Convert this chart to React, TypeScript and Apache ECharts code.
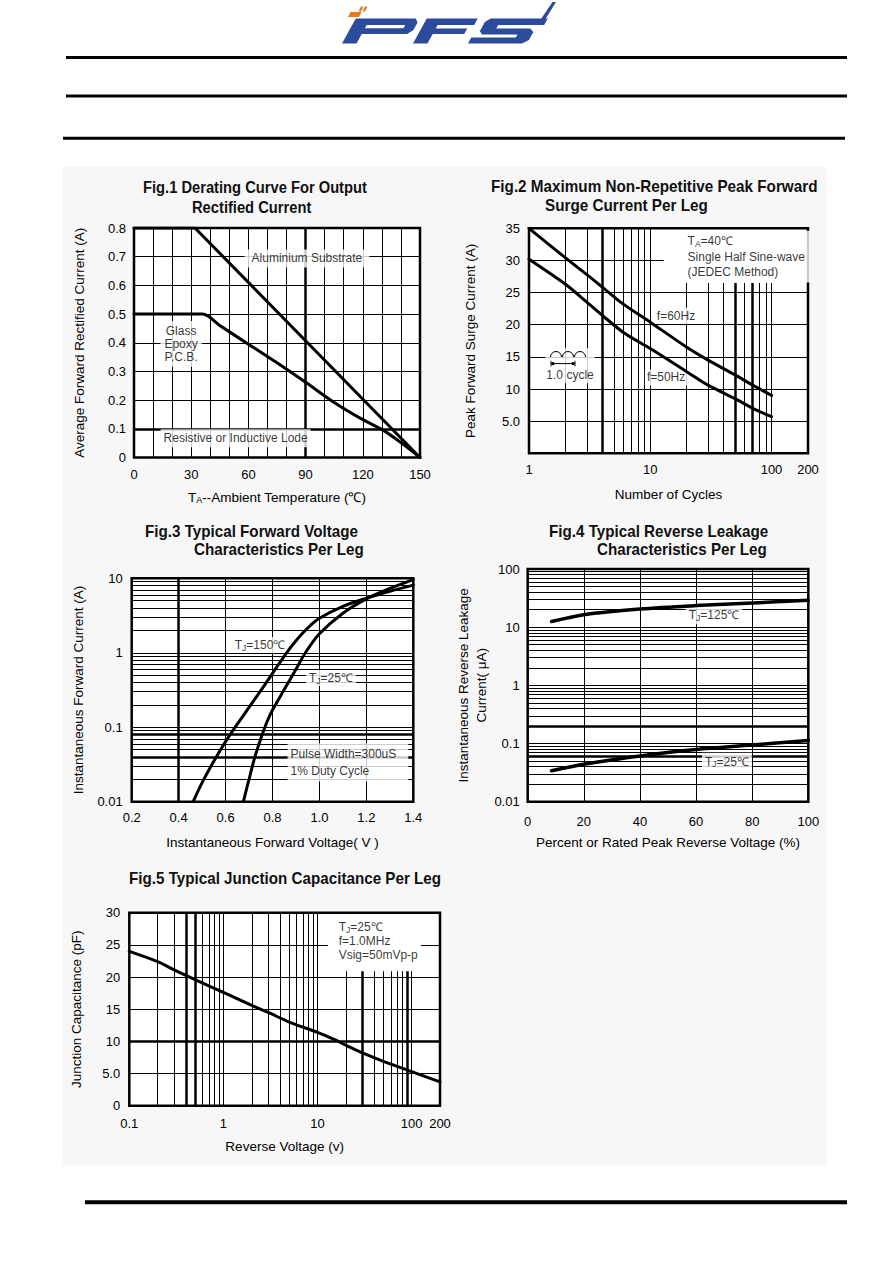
import React, { useEffect, useRef } from 'react';
import * as echarts from 'echarts';

const FONT = '"Liberation Sans", Arial, sans-serif';

// ---------- Fig.1 Derating curve ----------
const fig1Aluminium: [number, number][] = [[0, 0.8], [32, 0.8], [150, 0]];
const fig1Glass: [number, number][] = [[0, 0.5], [36, 0.5], [45, 0.46], [60, 0.395], [75, 0.33], [90, 0.262], [105, 0.192], [120, 0.132], [130, 0.098], [140, 0.052], [150, 0]];
const fig1VGrid = [10, 20, 30, 40, 50, 60, 70, 80, 90, 100, 110, 120, 130, 140];
const fig1VThick = [90];
const fig1HGrid = [0.1, 0.2, 0.3, 0.4, 0.5, 0.6, 0.7];
const fig1HThick = [0.1];

// ---------- Fig.2 Surge current ----------
const fig2F60: [number, number][] = [[1, 35], [2, 30.4], [3, 27.8], [4, 25.9], [6, 23.2], [10, 20.4], [20, 16.5], [30, 14.5], [50, 12.2], [70, 10.6], [100, 9.0]];
const fig2F50: [number, number][] = [[1, 30.2], [2, 26.3], [3, 23.5], [4, 21.5], [6, 18.8], [10, 16.3], [20, 12.7], [30, 10.6], [50, 8.5], [70, 7.0], [100, 5.7]];
const fig2XLabels = [1, 10, 100, 200];
const fig2VFull = [2, 3, 4, 5, 6, 7, 8, 9, 10];
const fig2VPartial = [20, 30, 40, 50, 60, 70, 80, 90, 100];
const fig2VThick = [4, 50, 70];
const fig2HFull = [5, 10, 15, 20, 25];
const fig2HPartial = [30];

// ---------- Fig.3 Forward voltage ----------
const fig3Tj150: [number, number][] = [[0.462, 0.01], [0.5, 0.018], [0.55, 0.035], [0.6, 0.064], [0.65, 0.11], [0.7, 0.185], [0.75, 0.31], [0.8, 0.53], [0.86, 1.0], [0.9, 1.45], [0.95, 2.15], [1.0, 2.9], [1.1, 4.2], [1.2, 5.4], [1.3, 6.7], [1.4, 8.1]];
const fig3Tj25: [number, number][] = [[0.676, 0.01], [0.7, 0.02], [0.725, 0.04], [0.75, 0.07], [0.775, 0.115], [0.8, 0.17], [0.85, 0.32], [0.9, 0.6], [0.94, 1.0], [1.0, 1.8], [1.1, 3.4], [1.2, 5.3], [1.3, 7.3], [1.4, 9.6]];
const fig3VGrid = [0.4, 0.6, 0.8, 1.0, 1.2];
const fig3VThick = [0.4];
const fig3HGrid = [0.02, 0.03, 0.04, 0.05, 0.06, 0.07, 0.08, 0.09, 0.1, 0.2, 0.3, 0.4, 0.5, 0.6, 0.7, 0.8, 0.9, 1, 2, 3, 4, 5, 6, 7, 8, 9];
const fig3HThick = [0.04, 0.08];

// ---------- Fig.4 Reverse leakage ----------
const fig4Tj125: [number, number][] = [[8.5, 12.5], [20, 16.4], [40, 20.5], [60, 23.5], [80, 26], [100, 29]];
const fig4Tj25: [number, number][] = [[8.5, 0.034], [20, 0.044], [40, 0.061], [60, 0.079], [80, 0.094], [100, 0.113]];
const fig4VGrid = [20, 40, 60, 80];
const fig4HGrid = [0.02, 0.03, 0.04, 0.05, 0.06, 0.07, 0.08, 0.09, 0.1, 0.2, 0.3, 0.4, 0.5, 0.6, 0.7, 0.8, 0.9, 1, 2, 3, 4, 5, 6, 7, 8, 9, 10, 20, 30, 40, 50, 60, 70, 80, 90];
const fig4HThick = [0.06, 0.2];

// ---------- Fig.5 Junction capacitance ----------
const fig5Cap: [number, number][] = [[0.1, 24], [0.2, 22.4], [0.3, 21.1], [0.5, 19.6], [1, 17.6], [2, 15.6], [3, 14.5], [5, 13.0], [10, 11.4], [15, 10.3], [20, 9.4], [30, 8.2], [50, 6.9], [100, 5.3], [200, 3.7]];
const fig5XLabels = [0.1, 1, 10, 100, 200];
const fig5VFull = [0.2, 0.3, 0.4, 0.5, 0.6, 0.7, 0.8, 0.9, 1, 2, 3, 4, 5, 6, 7, 8, 9, 10];
const fig5VPartial = [20, 30, 40, 50, 60, 70, 80, 90, 100];
const fig5VThick = [0.4, 0.5, 30, 90];
const fig5HFull = [5, 10, 15, 20];
const fig5HThick = [10];
const fig5HPartial = [25];

const RICH = {
  s: { fontSize: 8.5, fontFamily: FONT, color: '#000', verticalAlign: 'bottom' },
};

const fmtLog = (v: number) => (v >= 1 ? String(Math.round(v)) : String(parseFloat(v.toPrecision(2))));

function vl(v: number, thick: number[]) {
  return { xAxis: v, lineStyle: { width: thick.includes(v) ? 2.5 : 1 } };
}
function hl(v: number, thick: number[]) {
  return { yAxis: v, lineStyle: { width: thick.includes(v) ? 2.5 : 1 } };
}
function seg(x0: number, y0: number, x1: number, y1: number, w: number) {
  return [{ coord: [x0, y0], lineStyle: { width: w } }, { coord: [x1, y1], lineStyle: { width: w } }];
}

function gridSeries(idx: number, data: any[]) {
  return {
    type: 'line',
    xAxisIndex: idx,
    yAxisIndex: idx,
    data: [],
    z: 1,
    silent: true,
    markLine: {
      z: 1,
      silent: true,
      symbol: ['none', 'none'],
      label: { show: false },
      lineStyle: { color: '#000', width: 1, type: 'solid' },
      emphasis: { disabled: true },
      data,
    },
  };
}

function curve(idx: number, data: [number, number][], width = 3, smooth: number | boolean = 0.3) {
  return {
    type: 'line',
    xAxisIndex: idx,
    yAxisIndex: idx,
    data,
    z: 5,
    symbol: 'none',
    smooth,
    silent: true,
    lineStyle: { color: '#000', width, cap: 'round', join: 'round' },
  };
}

type Ann = { value: [number, number]; text: string; pad: number[]; pos?: string; lh?: number };
function labelSeries(idx: number, items: Ann[]) {
  return {
    type: 'scatter',
    xAxisIndex: idx,
    yAxisIndex: idx,
    z: 3,
    symbolSize: 1,
    silent: true,
    itemStyle: { color: 'rgba(0,0,0,0)' },
    data: items.map((it) => ({
      value: it.value,
      label: {
        show: true,
        formatter: it.text,
        position: it.pos || 'inside',
        distance: 0,
        color: '#000',
        fontFamily: FONT,
        fontSize: 12,
        lineHeight: it.lh || 14,
        backgroundColor: '#fff',
        padding: it.pad,
        rich: RICH,
      },
    })),
  };
}

const axisLabelBase = { color: '#000', fontFamily: FONT, fontSize: 13 };
const nameStyle = { color: '#000', fontFamily: FONT, fontSize: 13.5, rich: { s: { fontSize: 9, fontFamily: FONT, color: '#000', verticalAlign: 'bottom' } } };
const hidden = { axisLine: { show: false }, axisTick: { show: false }, splitLine: { show: false } };

function titleText(text: string, x: number, y: number, sx = 0.94) {
  return {
    type: 'text',
    x,
    y,
    scaleX: sx,
    z: 10,
    style: { text, fill: '#111', fontFamily: FONT, fontWeight: 'bold', fontSize: 16, align: 'left', verticalAlign: 'middle' },
  };
}

const K = 0.55;
const sh = (pts: number[][]) => pts.map(([x, y]) => [x + (43.5 - y) * K, y]);

function buildOption(): any {
  const grids = [
    { left: 134, top: 228, width: 286, height: 229.5 },
    { left: 529, top: 228.3, width: 279, height: 225 },
    { left: 131.7, top: 578.3, width: 281.6, height: 223.4 },
    { left: 527.7, top: 569, width: 280.6, height: 232.7 },
    { left: 129.3, top: 912.7, width: 310.7, height: 193 },
  ].map((g) => ({ ...g, show: true, backgroundColor: '#fff', borderColor: '#000', borderWidth: 2.5, containLabel: false }));

  const xAxis = [
    {
      gridIndex: 0, type: 'value', min: 0, max: 150, interval: 30, ...hidden,
      axisLabel: { ...axisLabelBase, margin: 10 },
      name: 'T{s|A}--Ambient Temperature (℃)', nameLocation: 'middle', nameGap: 33, nameTextStyle: nameStyle,
    },
    {
      gridIndex: 1, type: 'log', logBase: 10, min: 1, max: 200, ...hidden,
      axisLabel: { ...axisLabelBase, margin: 10, customValues: fig2XLabels, formatter: fmtLog, showMaxLabel: true, showMinLabel: true },
      name: 'Number of Cycles', nameLocation: 'middle', nameGap: 34, nameTextStyle: nameStyle,
    },
    {
      gridIndex: 2, type: 'value', min: 0.2, max: 1.4, interval: 0.2, ...hidden,
      axisLabel: { ...axisLabelBase, margin: 9, formatter: (v: number) => v.toFixed(1) },
      name: 'Instantaneous Forward Voltage( V )', nameLocation: 'middle', nameGap: 34, nameTextStyle: nameStyle,
    },
    {
      gridIndex: 3, type: 'value', min: 0, max: 100, interval: 20, ...hidden,
      axisLabel: { ...axisLabelBase, margin: 13 },
      name: 'Percent or Rated Peak Reverse Voltage (%)', nameLocation: 'middle', nameGap: 34, nameTextStyle: nameStyle,
    },
    {
      gridIndex: 4, type: 'log', logBase: 10, min: 0.1, max: 200, ...hidden,
      axisLabel: { ...axisLabelBase, margin: 11, customValues: fig5XLabels, formatter: fmtLog, showMaxLabel: true, showMinLabel: true },
      name: 'Reverse Voltage (v)', nameLocation: 'middle', nameGap: 34, nameTextStyle: nameStyle,
    },
  ];

  const yAxis = [
    {
      gridIndex: 0, type: 'value', min: 0, max: 0.8, interval: 0.1, ...hidden,
      axisLabel: { ...axisLabelBase, margin: 8, formatter: (v: number) => (v === 0 ? '0' : v.toFixed(1)) },
      name: 'Average Forward Rectified Current (A)', nameLocation: 'middle', nameGap: 48, nameTextStyle: nameStyle,
    },
    {
      gridIndex: 1, type: 'value', min: 0, max: 35, interval: 5, ...hidden,
      axisLabel: { ...axisLabelBase, margin: 9, formatter: (v: number) => (v === 0 ? '' : v === 5 ? '5.0' : String(v)) },
      name: 'Peak Forward Surge Current (A)', nameLocation: 'middle', nameGap: 52, nameTextStyle: nameStyle,
    },
    {
      gridIndex: 2, type: 'log', logBase: 10, min: 0.01, max: 10, ...hidden,
      axisLabel: { ...axisLabelBase, margin: 9, formatter: fmtLog },
      name: 'Instantaneous Forward Current (A)', nameLocation: 'middle', nameGap: 46, nameTextStyle: nameStyle,
    },
    {
      gridIndex: 3, type: 'log', logBase: 10, min: 0.01, max: 100, ...hidden,
      axisLabel: { ...axisLabelBase, margin: 8, formatter: fmtLog },
      name: 'Instantaneous Reverse Leakage\nCurrent( μA)', nameLocation: 'middle', nameGap: 35,
      nameTextStyle: { ...nameStyle, lineHeight: 18 },
    },
    {
      gridIndex: 4, type: 'value', min: 0, max: 30, interval: 5, ...hidden,
      axisLabel: { ...axisLabelBase, margin: 9, formatter: (v: number) => (v === 5 ? '5.0' : String(v)) },
      name: 'Junction Capacitance (pF)', nameLocation: 'middle', nameGap: 46, nameTextStyle: nameStyle,
    },
  ];

  const series: any[] = [
    // Fig1
    gridSeries(0, [...fig1VGrid.map((v) => vl(v, fig1VThick)), ...fig1HGrid.map((v) => hl(v, fig1HThick))]),
    labelSeries(0, [
      { value: [90.7, 0.694], text: 'Aluminium Substrate', pad: [2, 7, 2, 7] },
      { value: [24.7, 0.396], text: 'Glass\nEpoxy\nP.C.B.', pad: [3, 4, 3, 4], lh: 13.3 },
      { value: [53.3, 0.067], text: 'Resistive or Inductive Lode', pad: [2, 3, 2, 3] },
    ]),
    curve(0, fig1Aluminium, 3, false),
    curve(0, fig1Glass),
    // Fig2
    gridSeries(1, [
      ...fig2VFull.map((v) => vl(v, fig2VThick)),
      ...fig2VPartial.map((v) => seg(v, 0, v, 26.5, fig2VThick.includes(v) ? 2.5 : 1)),
      ...fig2HFull.map((v) => hl(v, [])),
      ...fig2HPartial.map((v) => seg(1, v, 12.9, v, 1)),
    ]),
    labelSeries(1, [
      { value: [19, 30.6], text: 'T{s|A}=40℃\nSingle Half Sine-wave\n(JEDEC Method)', pad: [3, 6, 3, 3], pos: 'right', lh: 15.3 },
      { value: [16.3, 21.4], text: 'f=60Hz', pad: [1, 2, 1, 2] },
      { value: [13.5, 11.8], text: 'f=50Hz', pad: [1, 2, 1, 2] },
      { value: [2.18, 13.6], text: '1.0 cycle', pad: [20, 1, 1, 1] },
    ]),
    curve(1, fig2F60),
    curve(1, fig2F50),
    // Fig3
    gridSeries(2, [...fig3VGrid.map((v) => vl(v, fig3VThick)), ...fig3HGrid.map((v) => hl(v, fig3HThick))]),
    labelSeries(2, [
      { value: [0.747, 1.27], text: 'T{s|J}=150℃', pad: [1, 3, 1, 3] },
      { value: [1.049, 0.458], text: 'T{s|J}=25℃', pad: [1, 3, 1, 3] },
      { value: [0.862, 0.0336], text: 'Pulse Width=300uS\n1% Duty Cycle', pad: [2, 12, 2, 3], pos: 'right', lh: 17 },
    ]),
    curve(2, fig3Tj150),
    curve(2, fig3Tj25),
    // Fig4
    gridSeries(3, [...fig4VGrid.map((v) => vl(v, [])), ...fig4HGrid.map((v) => hl(v, fig4HThick))]),
    labelSeries(3, [
      { value: [66.4, 16.1], text: 'T{s|J}=125℃', pad: [2, 3, 2, 3] },
      { value: [71, 0.0487], text: 'T{s|J}=25℃', pad: [2, 3, 2, 3] },
    ]),
    curve(3, fig4Tj125, 3.5),
    curve(3, fig4Tj25, 3.5),
    // Fig5
    gridSeries(4, [
      ...fig5VFull.map((v) => vl(v, fig5VThick)),
      ...fig5VPartial.map((v) => seg(v, 0, v, 20.9, fig5VThick.includes(v) ? 2.5 : 1)),
      ...fig5HFull.map((v) => hl(v, fig5HThick)),
      ...fig5HPartial.map((v) => seg(0.1, v, 12.9, v, 1)),
      ...fig5HPartial.map((v) => seg(125, v, 200, v, 1)),
    ]),
    labelSeries(4, [
      { value: [15.4, 25.6], text: 'T{s|J}=25℃\nf=1.0MHz\nVsig=50mVp-p', pad: [2, 3, 2, 3], pos: 'right', lh: 14 },
    ]),
    curve(4, fig5Cap),
  ];

  const blue = '#2c4b9b';
  const orange = '#e8781e';
  const graphic: any[] = [
    { type: 'rect', z: -100, shape: { x: 63, y: 167, width: 764, height: 999 }, style: { fill: '#f7f7f7' } },
    { type: 'line', shape: { x1: 66, y1: 57.5, x2: 847, y2: 57.5 }, style: { stroke: '#000', lineWidth: 3 } },
    { type: 'line', shape: { x1: 66, y1: 96, x2: 847, y2: 96 }, style: { stroke: '#000', lineWidth: 3 } },
    { type: 'line', shape: { x1: 63, y1: 138.3, x2: 845, y2: 138.3 }, style: { stroke: '#000', lineWidth: 3 } },
    { type: 'line', shape: { x1: 85, y1: 1202.3, x2: 847, y2: 1202.3 }, style: { stroke: '#000', lineWidth: 4 } },
    // logo: P
    { type: 'polygon', shape: { points: sh([[342, 43.5], [342, 18.5], [402, 18.5], [406, 22.5], [406, 30], [402, 34], [356.5, 34], [356.5, 43.5]]) }, style: { fill: blue } },
    { type: 'polygon', shape: { points: sh([[356.5, 25], [395, 25], [395, 28.3], [356.5, 28.3]]) }, style: { fill: '#fff' } },
    // F
    { type: 'polygon', shape: { points: sh([[413, 43.5], [413, 18.5], [464, 18.5], [464, 25], [427.5, 25], [427.5, 28.5], [459, 28.5], [459, 34], [427.5, 34], [427.5, 43.5]]) }, style: { fill: blue } },
    // S
    { type: 'polygon', shape: { points: sh([[477, 18.5], [534, 18.5], [534, 25], [488, 25], [488, 28.5], [522, 28.5], [527, 32], [527, 40], [522, 43.5], [468, 43.5], [468, 37.5], [512.5, 37.5], [512.5, 34.5], [477, 34.5], [473, 31], [473, 22]]) }, style: { fill: blue } },
    { type: 'polygon', shape: { points: [[541, 19], [545.5, 19], [556, 2], [552.5, 2]] }, style: { fill: blue } },
    // orange mark
    { type: 'polygon', shape: { points: [[348, 17], [359, 17], [361.5, 12], [350.5, 12]] }, style: { fill: orange } },
    { type: 'polygon', shape: { points: [[358.5, 11.5], [361, 11.5], [363.5, 6.5], [361, 6.5]] }, style: { fill: orange } },
    { type: 'polygon', shape: { points: [[362.5, 11.5], [365, 11.5], [367.5, 6.5], [365, 6.5]] }, style: { fill: orange } },
    // titles
    titleText('Fig.1 Derating Curve For Output', 143, 187, 0.92),
    titleText('Rectified Current', 192, 207, 0.92),
    titleText('Fig.2 Maximum Non-Repetitive Peak Forward', 491, 186, 0.955),
    titleText('Surge Current Per Leg', 545, 205, 0.955),
    titleText('Fig.3 Typical Forward Voltage', 145, 531, 0.95),
    titleText('Characteristics Per Leg', 194, 549, 0.95),
    titleText('Fig.4 Typical Reverse Leakage', 549, 531, 0.95),
    titleText('Characteristics Per Leg', 597, 549, 0.95),
    titleText('Fig.5 Typical Junction Capacitance Per Leg', 129, 878, 0.95),
    // 1.0 cycle icon
    { type: 'arc', z: 100, shape: { cx: 556, cy: 357, r: 5.5, startAngle: Math.PI, endAngle: Math.PI * 2 }, style: { stroke: '#000', lineWidth: 1, fill: 'none' } },
    { type: 'arc', z: 100, shape: { cx: 568, cy: 357, r: 5.5, startAngle: Math.PI, endAngle: Math.PI * 2 }, style: { stroke: '#000', lineWidth: 1, fill: 'none' } },
    { type: 'arc', z: 100, shape: { cx: 580, cy: 357, r: 5.5, startAngle: Math.PI, endAngle: Math.PI * 2 }, style: { stroke: '#000', lineWidth: 1, fill: 'none' } },
    { type: 'line', z: 100, shape: { x1: 551, y1: 363.6, x2: 575, y2: 363.6 }, style: { stroke: '#000', lineWidth: 1 } },
    { type: 'line', z: 100, shape: { x1: 551, y1: 360.8, x2: 551, y2: 366.4 }, style: { stroke: '#000', lineWidth: 1 } },
    { type: 'line', z: 100, shape: { x1: 575, y1: 360.8, x2: 575, y2: 366.4 }, style: { stroke: '#000', lineWidth: 1 } },
    { type: 'circle', z: 100, shape: { cx: 553, cy: 363.6, r: 1.6 }, style: { fill: '#000' } },
    { type: 'circle', z: 100, shape: { cx: 573, cy: 363.6, r: 1.6 }, style: { fill: '#000' } },
  ];

  return { animation: false, grid: grids, xAxis, yAxis, series, graphic };
}

export default function App() {
  const ref = useRef<HTMLDivElement>(null);
  useEffect(() => {
    if (!ref.current) return;
    const chart = echarts.init(ref.current, null, { renderer: 'svg' });
    chart.setOption(buildOption());
    return () => chart.dispose();
  }, []);
  return (
    <div
      ref={ref}
      style={{ position: 'absolute', left: 0, top: 0, width: 892, height: 1263, background: '#fff' }}
    />
  );
}
